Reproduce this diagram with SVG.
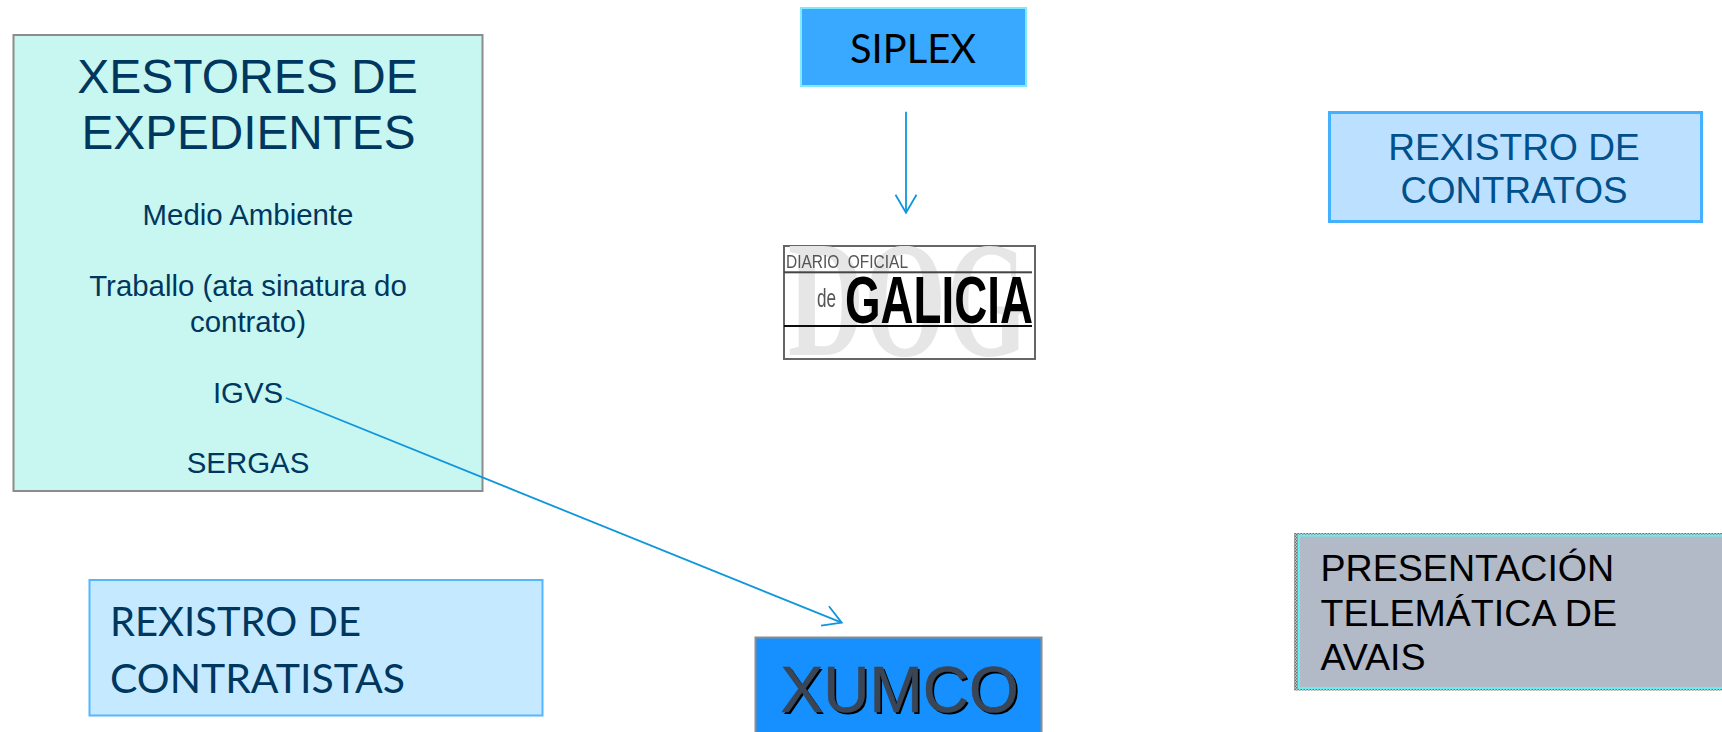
<svg xmlns="http://www.w3.org/2000/svg" width="1722" height="732" viewBox="0 0 1722 732">
<defs>
<style>
.a{font-family:"Liberation Sans",Arial,sans-serif}
.l{font-family:Lato,"Open Sans",sans-serif}
.c{text-anchor:middle}
.nav{fill:#00375f}
.conn{fill:none;stroke:#0f96dc;stroke-width:1.8}
</style>
<marker id="open" viewBox="-22 -12 24 24" refX="0" refY="0" markerWidth="24" markerHeight="24" markerUnits="userSpaceOnUse" orient="auto">
<path d="M-18,-10.5 L0,0 L-18,10.5" fill="none" stroke="#0f96dc" stroke-width="1.8"/>
</marker>
<pattern id="dots" width="3" height="3" patternUnits="userSpaceOnUse">
<rect width="3" height="3" fill="#c8c8c8"/><rect width="1.5" height="1.5" fill="#6e6e6e"/><rect x="1.5" y="1.5" width="1.5" height="1.5" fill="#6e6e6e"/>
</pattern>
<clipPath id="logoClip"><rect x="784" y="246" width="251" height="113"/></clipPath>
<filter id="soft" x="-5%" y="-5%" width="110%" height="110%"><feGaussianBlur stdDeviation="0.6"/></filter>
</defs>
<rect width="1722" height="732" fill="#fff"/>
<g id="xestores">
<rect x="13.5" y="35" width="469" height="456" fill="#c8f6f1" stroke="#8c8c8c" stroke-width="2"/>
<g class="a c nav">
<text x="247.5" y="92.7" font-size="48">XESTORES DE</text>
<text x="248.5" y="149" font-size="47.7">EXPEDIENTES</text>
<text x="248" y="225" font-size="29.4">Medio Ambiente</text>
<text x="248" y="296" font-size="29.4">Traballo (ata sinatura do</text>
<text x="248" y="331.7" font-size="29.4">contrato)</text>
<text x="248" y="402.7" font-size="29.4">IGVS</text>
<text x="248" y="473" font-size="29.4">SERGAS</text>
</g>
</g>
<g id="siplex">
<rect x="801" y="8" width="225" height="78" fill="#39a8ff" stroke="#7fe9ff" stroke-width="2"/>
<text class="l" x="850" y="63" font-size="41" fill="#000" textLength="126" lengthAdjust="spacingAndGlyphs">SIPLEX</text>
</g>
<g id="doe">
<rect x="784" y="246" width="251" height="113" fill="#fff" stroke="#666" stroke-width="2"/>
<g clip-path="url(#logoClip)" filter="url(#soft)">
<text x="788" y="355" font-family="Liberation Serif,serif" font-weight="bold" font-size="165" fill="#e6e6e6" textLength="240" lengthAdjust="spacingAndGlyphs">DOG</text>
<rect x="784" y="271.3" width="248" height="2" fill="#444"/>
<rect x="784" y="325" width="248" height="2" fill="#111"/>
<text class="a" x="786" y="268" font-size="19" fill="#555" word-spacing="5" textLength="122" lengthAdjust="spacingAndGlyphs">DIARIO OFICIAL</text>
<text class="a" x="817" y="307" font-size="26" fill="#555" textLength="19" lengthAdjust="spacingAndGlyphs">de</text>
<text class="a" x="845" y="323" font-size="67" font-weight="bold" fill="#000" textLength="188" lengthAdjust="spacingAndGlyphs">GALICIA</text>
</g>
</g>
<g id="rexistro-contratos">
<rect x="1329.5" y="112.5" width="372" height="109" fill="#bce0ff" stroke="#45b0ff" stroke-width="3"/>
<g class="a c" fill="#00508c">
<text x="1514" y="160" font-size="37.1">REXISTRO DE</text>
<text x="1514" y="203" font-size="36.7">CONTRATOS</text>
</g>
</g>
<g id="rexistro-contratistas">
<rect x="89.5" y="580" width="453" height="135.5" fill="#c5eaff" stroke="#55b5ff" stroke-width="2"/>
<g class="l nav" font-size="41">
<text x="110" y="636" textLength="251" lengthAdjust="spacingAndGlyphs">REXISTRO DE</text>
<text x="110" y="693" textLength="295" lengthAdjust="spacingAndGlyphs">CONTRATISTAS</text>
</g>
</g>
<g id="xumco">
<rect x="755.5" y="637.5" width="286" height="100" fill="#1690ff" stroke="#8c8c8c" stroke-width="2"/>
<text class="a" x="782.5" y="714" font-size="64" fill="#000">XUMCO</text>
<text class="a" x="780.5" y="712" font-size="64" fill="#3a4556" stroke="#3a4556" stroke-width="0.6">XUMCO</text>
</g>
<g id="avais">
<rect x="1294" y="533" width="430" height="157.5" fill="url(#dots)"/>
<rect x="1299" y="535.5" width="430" height="152.5" fill="#b2bac8" stroke="#66efef" stroke-width="2"/>
<g class="a" font-size="37.6" fill="#000">
<text x="1320.5" y="581">PRESENTACIÓN</text>
<text x="1320.5" y="626">TELEMÁTICA DE</text>
<text x="1320.5" y="670">AVAIS</text>
</g>
</g>
<g id="connectors">
<line class="conn" x1="906" y1="111.7" x2="906" y2="212.7" marker-end="url(#open)"/>
<line class="conn" x1="286" y1="398" x2="841.7" y2="622.7" marker-end="url(#open)"/>
</g>
</svg>
